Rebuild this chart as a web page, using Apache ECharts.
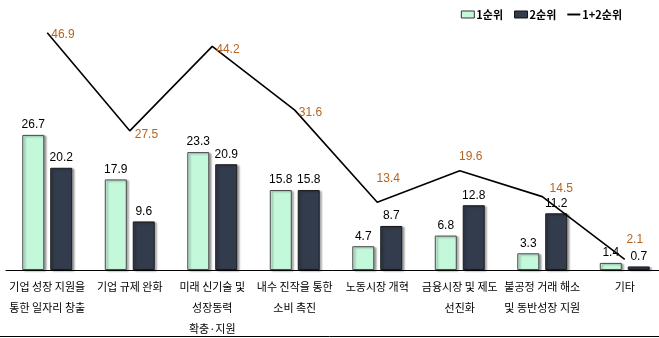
<!DOCTYPE html>
<html><head><meta charset="utf-8">
<script src="https://cdn.jsdelivr.net/npm/echarts@6/dist/echarts.min.js"></script>
<style>html,body{margin:0;padding:0;background:#fff}#c{width:659px;height:338px}</style>
</head><body><div id="c"></div>
<script>
const categories = ['기업 성장 지원을\n통한 일자리 창출','기업 규제 완화','미래 신기술 및\n성장동력\n확충·지원','내수 진작을 통한\n소비 촉진','노동시장 개혁','금융시장 및 제도\n선진화','불공정 거래 해소\n및 동반성장 지원','기타'];
const rank1 = [26.7, 17.9, 23.3, 15.8, 4.7, 6.8, 3.3, 1.4];
const rank2 = [20.2, 9.6, 20.9, 15.8, 8.7, 12.8, 11.2, 0.7];
const rank12 = [46.9, 27.5, 44.2, 31.6, 13.4, 19.6, 14.5, 2.1];
const seriesNames = ['1순위', '2순위', '1+2순위'];

const lineLabelPos = [
  {position:'right', offset:[0,2]},
  {position:'right', offset:[1,4]},
  {position:'right', offset:[0,3]},
  {position:'right', offset:[0,3]},
  {position:'top', offset:[11,-14]},
  {position:'top', offset:[11,-4]},
  {position:'top', offset:[19,2]},
  {position:'top', offset:[10,-10]}
];

const chart = echarts.init(document.getElementById('c'));
const barLabel = {show:true, position:'top', distance:4, color:'#000', fontSize:12, fontFamily:'Liberation Sans, Arial, sans-serif'};
chart.setOption({
  animation:false,
  textStyle:{fontFamily:'Noto Sans CJK KR, sans-serif'},
  legend:{
    top:4, right:32, itemGap:11, itemWidth:13, itemHeight:7,
    textStyle:{fontSize:11, fontWeight:'bold', color:'#000', fontFamily:'Noto Sans CJK KR, sans-serif', padding:[0,0,0,-3]},
    data:[
      {name:seriesNames[0], icon:'rect', itemStyle:{borderColor:'#333', borderWidth:1}},
      {name:seriesNames[1], icon:'rect', itemStyle:{borderColor:'#111', borderWidth:1}},
      {name:seriesNames[2], icon:'path://M0,0H20V3H0Z', itemStyle:{color:'#000', borderWidth:0}}
    ]
  },
  grid:{left:6, width:660, top:17, bottom:68, containLabel:false, outerBoundsMode:'none'},
  xAxis:{
    type:'category', data:categories,
    axisLine:{lineStyle:{color:'#000', width:1}},
    axisTick:{show:false},
    axisLabel:{interval:0, margin:6, lineHeight:21, fontSize:11, color:'#000', fontFamily:'Noto Sans CJK KR, sans-serif'}
  },
  yAxis:{type:'value', min:0, max:50, show:false, splitLine:{show:false}},
  series:[
    {name:seriesNames[0], type:'bar', data:rank1, barWidth:22, barGap:'27%',
     itemStyle:{color:'#C4F8DB', borderColor:'#4a4a4a', borderWidth:1, shadowColor:'rgba(0,0,0,0.35)', shadowBlur:2, shadowOffsetX:2, shadowOffsetY:1},
     label:barLabel},
    {name:seriesNames[1], type:'bar', data:rank2, barWidth:22,
     itemStyle:{color:'#333C4D', borderColor:'#1a1a1a', borderWidth:1, shadowColor:'rgba(0,0,0,0.35)', shadowBlur:2, shadowOffsetX:2, shadowOffsetY:1},
     label:barLabel},
    {name:seriesNames[2], type:'line', symbol:'circle', symbolSize:0.01, showSymbol:true, z:5,
     data:rank12.map((v,i)=>({value:v, label:lineLabelPos[i]})),
     lineStyle:{color:'#000', width:1.6},
     itemStyle:{color:'#000'},
     label:{show:true, distance:4, color:'#B8641E', fontSize:12, fontFamily:'Liberation Sans, Arial, sans-serif'}}
  ],
  graphic:[{type:'line', shape:{x1:0, y1:336.5, x2:659, y2:336.5}, style:{stroke:'#000', lineWidth:1}}]
});
</script>
</body></html>
